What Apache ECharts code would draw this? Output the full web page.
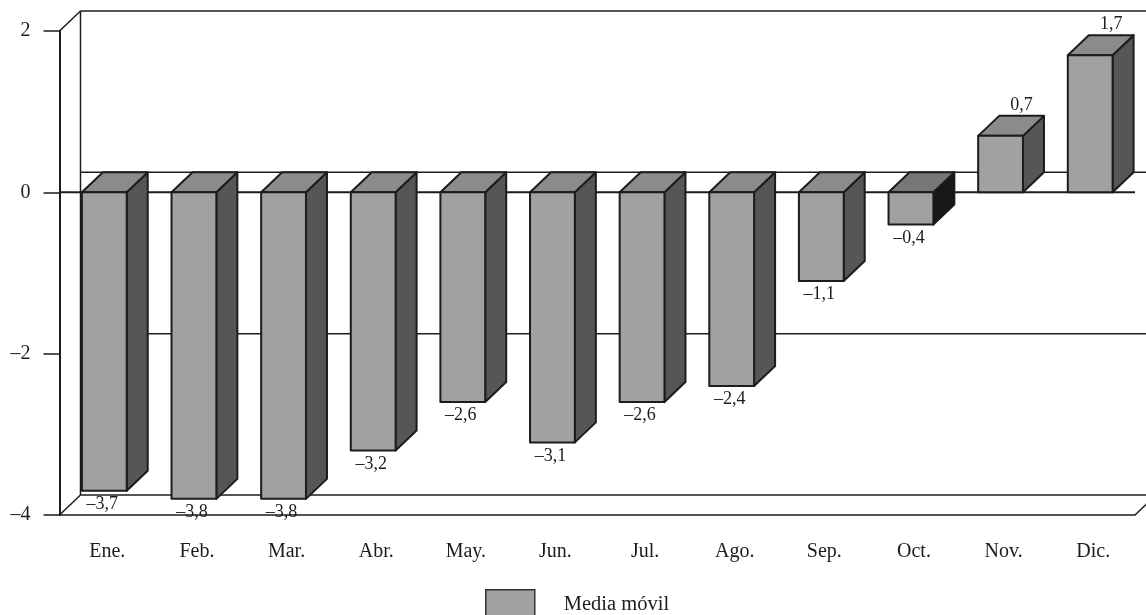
<!DOCTYPE html>
<html>
<head>
<meta charset="utf-8">
<style>html,body{margin:0;padding:0;background:#fff}#c{width:1146px;height:615px}</style>
<script src="https://cdn.jsdelivr.net/npm/echarts@6/dist/echarts.min.js"></script>
</head>
<body>
<div id="c"></div>
<script>
const categories = ['Ene.','Feb.','Mar.','Abr.','May.','Jun.','Jul.','Ago.','Sep.','Oct.','Nov.','Dic.'];
const mediaMovil = [-3.7,-3.8,-3.8,-3.2,-2.6,-3.1,-2.6,-2.4,-1.1,-0.4,0.7,1.7];
const yTicks = [2,0,-2,-4];
const yTickLabels = {'2':'2','0':'0','-2':'–2','-4':'–4'};
const seriesName = 'Media móvil';

const FONT = '"Liberation Serif","Times New Roman",serif';
const INK = '#1c1c1c';
const DX = 21, DY = -20;
const fmt = v => String(v).replace('.', ',').replace('-', '–');

function line(x1,y1,x2,y2,w){
  return {type:'line',shape:{x1,y1,x2,y2},style:{stroke:INK,lineWidth:w||1.5,fill:null}};
}
function wallItem(params, api){
  const v = api.value(1);
  const y = api.coord([0,v])[1];
  const cs = params.coordSys;
  const l = cs.x, r = cs.x + cs.width;
  const yTop = api.coord([0,2])[1], yBot = api.coord([0,-4])[1];
  const kids = [line(l+DX,y+DY,r+DX,y+DY)];
  if (v === 2) {
    kids.push(line(l,y,l+DX,y+DY));
    kids.push(line(l+DX,yTop+DY,l+DX,yBot+DY));
  }
  if (v === -4) {
    kids.push(line(l,y,l+DX,y+DY));
    kids.push(line(r,y,r+DX,y+DY));
  }
  if (v === 0) kids.push(line(l,y,r,y,2));
  return {type:'group',children:kids};
}
function barItem(params, api){
  const i = api.value(0), v = api.value(1);
  const p0 = api.coord([i,0]), p1 = api.coord([i,v]);
  const w = api.size([1,0])[0]*0.5;
  const xl = p0[0]-w/2, xr = p0[0]+w/2;
  const yt = Math.min(p0[1],p1[1]), yb = Math.max(p0[1],p1[1]);
  const edge = {stroke:INK,lineWidth:2,lineJoin:'round'};
  const dark = categories[i] === 'Oct.';
  const kids = [
    {type:'polygon',shape:{points:[[xr,yt],[xr+DX,yt+DY],[xr+DX,yb+DY],[xr,yb]]},
      style:Object.assign({fill:dark?'#171717':'#565656'},edge)},
    {type:'polygon',shape:{points:[[xl,yt],[xl+DX,yt+DY],[xr+DX,yt+DY],[xr,yt]]},
      style:Object.assign({fill:dark?'#777777':'#8b8b8b'},edge)},
    {type:'rect',shape:{x:xl,y:yt,width:xr-xl,height:yb-yt},
      style:Object.assign({fill:'#a1a1a1'},edge)}
  ];
  const lx = v < 0 ? p0[0]-2 : p0[0]+21;
  const ly = v < 0 ? yb+13.5 : yt-31;
  kids.push({type:'text',z2:5,style:{text:fmt(v),x:lx,y:ly,align:'center',verticalAlign:'middle',
    font:'18px '+FONT,fill:INK}});
  return {type:'group',children:kids};
}

const chart = echarts.init(document.getElementById('c'),null,{renderer:'canvas'});
chart.setOption({
  animation:false,
  backgroundColor:'#ffffff',
  grid:{left:59.5,right:11,top:31,bottom:100,containLabel:false},
  legend:{
    data:[seriesName],left:485,top:589,itemWidth:49,itemHeight:30,icon:'rect',
    padding:0,itemStyle:{borderColor:'#333',borderWidth:1.5},
    textStyle:{fontFamily:FONT,fontSize:20.5,color:INK,padding:[0,0,0,24]}
  },
  xAxis:{
    type:'category',data:categories,
    axisLine:{onZero:false,lineStyle:{color:INK,width:1.5}},
    axisTick:{show:false},
    axisLabel:{interval:0,margin:27,fontFamily:FONT,fontSize:20,color:INK,padding:[0,0,0,6]}
  },
  yAxis:{
    type:'value',min:-4,max:2,interval:2,
    axisLine:{show:true,lineStyle:{color:INK,width:2}},
    axisTick:{show:true,length:16,lineStyle:{color:INK,width:1.5}},
    splitLine:{show:false},
    axisLabel:{margin:29,fontFamily:FONT,fontSize:20,color:INK,formatter:v=>yTickLabels[String(v)]}
  },
  series:[
    {name:'wall',type:'custom',z:1,silent:true,renderItem:wallItem,
      encode:{x:0,y:1},data:yTicks.map(t=>[0,t])},
    {name:seriesName,type:'custom',z:2,renderItem:barItem,itemStyle:{color:'#a1a1a1'},
      encode:{x:0,y:1},data:mediaMovil.map((v,i)=>[i,v])}
  ]
});
</script>
</body>
</html>
